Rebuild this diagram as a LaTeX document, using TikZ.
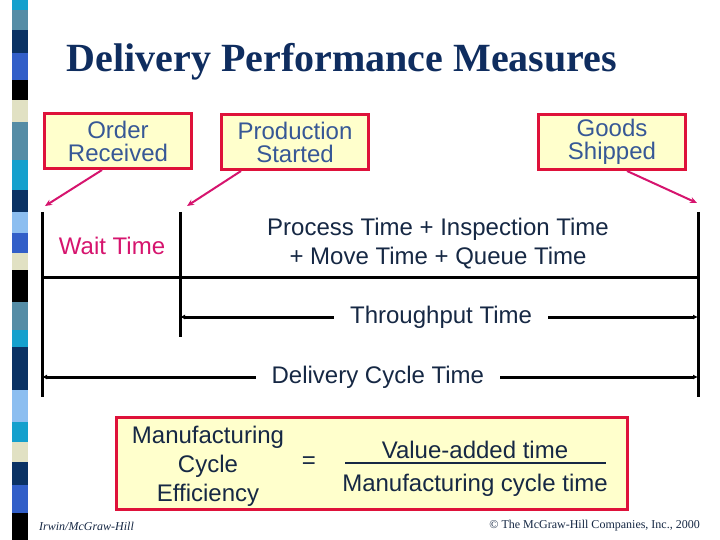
\documentclass[tikz,border=0pt]{standalone}
\usepackage{fontspec}
\setmainfont{Liberation Sans}
\newfontfamily\seriffont{Liberation Serif}
\usetikzlibrary{arrows.meta}
\definecolor{boxfill}{RGB}{255,255,204}
\definecolor{boxred}{RGB}{222,18,58}
\definecolor{boxtext}{RGB}{55,88,150}
\definecolor{mag}{RGB}{214,20,110}
\definecolor{darktext}{RGB}{22,40,68}
\definecolor{titlecol}{RGB}{15,45,95}
\definecolor{stcyan}{RGB}{20,160,205}
\definecolor{ststeel}{RGB}{85,140,165}
\definecolor{stnavy}{RGB}{10,50,100}
\definecolor{stroyal}{RGB}{50,95,200}
\definecolor{stbeige}{RGB}{225,225,195}
\definecolor{stlight}{RGB}{140,190,240}
\tikzset{
  evbox/.style={draw=boxred, line width=3pt, fill=boxfill, minimum width=147pt,
    minimum height=55pt, inner sep=0pt, text=boxtext, align=center,
    font=\fontsize{24}{23}\selectfont},
  bigtext/.style={inner sep=0pt, align=center, font=\fontsize{24}{29}\selectfont},
  magarrow/.style={draw=mag, line width=2pt, -{Stealth[length=7pt,width=6pt]}},
  bar/.style={draw=black, line width=3pt},
  dimarrow/.style={draw=black, line width=3pt, {Latex[length=5pt,width=5pt]}-{Latex[length=5pt,width=5pt]}},
  dimlabel/.style={fill=white, inner xsep=16pt, inner ysep=2pt, text=darktext,
    font=\fontsize{24}{29}\selectfont},
}
\begin{document}
\begin{tikzpicture}[x=1pt,y=-1pt]
\useasboundingbox (0,0) rectangle (720,540);
\fill[white] (0,0) rectangle (720,540);
% decorative stripe
\foreach \a/\b/\c in {0/10/stcyan,10/30/ststeel,30/53/stnavy,53/80/stroyal,80/100/black,
  100/122/stbeige,122/160/ststeel,160/190/stcyan,190/212/stnavy,212/233/stlight,
  233/253/stroyal,253/270/stbeige,270/302/black,302/330/ststeel,330/347/stcyan,
  347/390/stnavy,390/422/stlight,422/442/stcyan,442/462/stbeige,462/485/stnavy,
  485/513/stroyal,513/540/black}
  \fill[\c] (12,\a) rectangle (28,\b);
% title
\node[anchor=base, inner sep=0pt, text=titlecol, font=\seriffont\bfseries\fontsize{40}{40}\selectfont]
  (title) at (342,72) {Delivery Performance Measures};
% event boxes
\node[evbox] (order) at (118,141) {Order\\Received};
\node[evbox] (prod) at (295,142) {Production\\Started};
\node[evbox] (goods) at (612,142) {Goods\\Shipped};
% time-line coordinates
\coordinate (L1top) at (42,212);
\coordinate (L1bot) at (42,397);
\coordinate (L2top) at (180,212);
\coordinate (L2bot) at (180,337);
\coordinate (L3top) at (698,212);
\coordinate (L3bot) at (698,397);
\coordinate (hL) at (42,277);
\coordinate (hR) at (698,277);
\coordinate (tpL) at (180,317);
\coordinate (tpR) at (698,317);
\coordinate (dcL) at (42,377);
\coordinate (dcR) at (698,377);
\coordinate (a1) at (45,206);
\coordinate (a2) at (187,206);
\coordinate (a3) at (697,203);
% pointer arrows
\draw[magarrow] ([xshift=-16pt]order.south) -- (a1);
\draw[magarrow] ([xshift=-54pt]prod.south) -- (a2);
\draw[magarrow] ([xshift=15pt]goods.south) -- (a3);
% bars
\draw[bar] (L1top) -- (L1bot);
\draw[bar] (L2top) -- (L2bot);
\draw[bar] (L3top) -- (L3bot);
\draw[bar] (hL) -- (hR);
% labels
\node[bigtext, text=mag] (wait) at (112,246) {Wait Time};
\node[bigtext, text=darktext] (proc) at (438,244) {Process Time + Inspection Time\\+ Move Time + Queue Time};
\draw[dimarrow] (tpL) -- node[dimlabel, pos=0.504] (tplabel) {Throughput Time} (tpR);
\draw[dimarrow] (dcL) -- node[dimlabel, pos=0.512] (dclabel) {Delivery Cycle Time} (dcR);
% formula box
\node[draw=boxred, line width=3pt, fill=boxfill, minimum width=511pt, minimum height=92pt, inner sep=0pt]
  (formula) at (372,463) {};
\node[bigtext, text=darktext] (mce) at (208,466) {Manufacturing\\Cycle\\Efficiency};
\node[bigtext, text=darktext] (eq) at (309,463) {=};
\node[bigtext, text=darktext, anchor=base] (num) at (475,458) {Value-added time};
\node[bigtext, text=darktext, anchor=base] (den) at (475,491) {Manufacturing cycle time};
\coordinate (fracL) at (345,463);
\coordinate (fracR) at (606,463);
\draw[line width=2.5pt, darktext] (fracL) -- (fracR);
% footer
\node[anchor=base west, inner sep=0pt, text=darktext, font=\seriffont\itshape\fontsize{12}{12}\selectfont]
  (irwin) at (39,530) {Irwin/McGraw-Hill};
\node[anchor=base east, inner sep=0pt, text=darktext, font=\seriffont\fontsize{12}{12}\selectfont]
  (copy) at (700,528) {© The McGraw-Hill Companies, Inc., 2000};
\end{tikzpicture}
\end{document}
